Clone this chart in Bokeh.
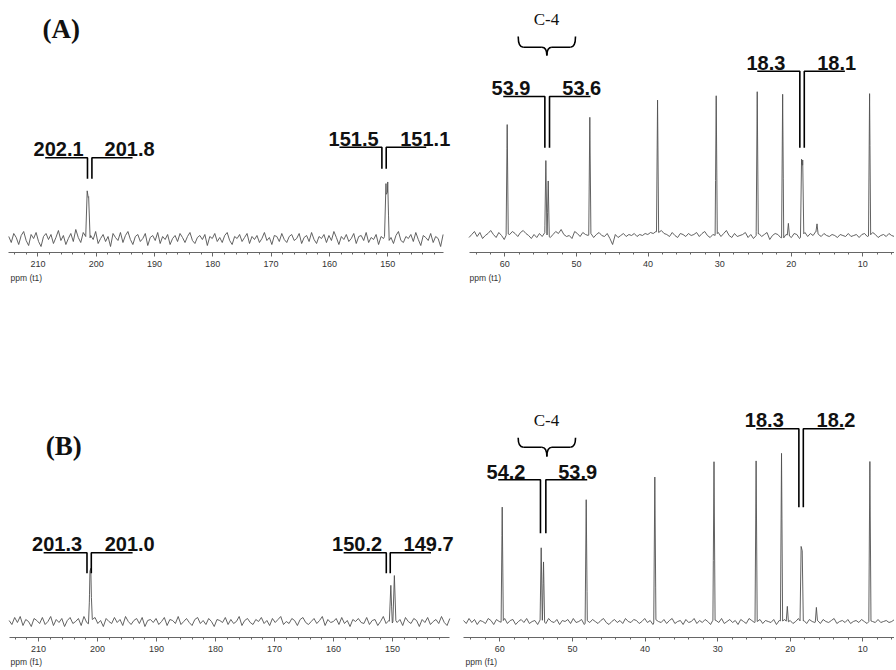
import numpy as np
from bokeh.plotting import figure
from bokeh.layouts import column, row
from bokeh.models import Range1d, SingleIntervalTicker, Title
from bokeh.core.properties import value
from bokeh.embed import file_html
from bokeh.resources import INLINE

# ---------------- data ----------------
# peaks: chemical shift (ppm) and height above baseline
a_left_ppm = [201.55, 201.3, 150.3, 150.0]
a_left_h = [51, 47, 50, 57]
a_right_ppm = [59.67, 54.27, 53.94, 48.13, 38.67, 30.48, 24.75, 21.2, 20.4, 18.56, 18.4, 16.4, 9.06]
a_right_h = [109, 73, 55, 117, 132, 139, 143, 144, 12, 77, 75, 9, 142]
b_left_ppm = [201.3, 201.15, 150.3, 149.7]
b_left_h = [37, 39, 38, 43]
b_right_ppm = [59.67, 54.3, 53.98, 48.1, 38.65, 30.5, 24.7, 21.2, 20.4, 18.5, 18.35, 16.4, 9.03]
b_right_h = [115, 72, 59, 122, 144, 158, 161, 168, 16, 76, 71, 14, 159]

# baseline noise
noise_a_left = [2,-4,5,1,-6,3,7,-2,-7,4,0,6,-3,-8,2,5,-1,4,-5,1,8,-2,3,-6,0,5,-3,9,1,-4,6,2,-7,3,-1,7,-5,0,4,-3,
                2,-8,5,1,-2,6,-4,3,7,-1,-6,2,4,-3,0,5,-7,1,3,-2,6,-5,2,-1,4,-6,0,3,-3,5,1,-4,2,6,-2,-5,1,3,-1,4,
                -7,2,0,5,-3,1,-4,3,6,-2,-6,2,0,4,-3,1,5,-5,2,-1,3,-4,0,6,-2,1,-6,3,2,-3,5,-1,-4,2,4,-2,0,5,-5,1,
                3,-3,6,-1,-5,2,0,4,-4,3,-2,7,1,-6,2,-1,4,-3,0,5,-5,2,3,-2,6,-4,1,-1,4,-6,2,0,5,-3,1,-5,3,7,-2,-4,
                2,0,4,-3,6,-1,-7,3,1,-2,5,-4,2,0,-8,4]
noise_b_left = [1,-3,4,-1,5,-4,2,0,-5,3,1,-2,4,-3,0,5,-4,2,-1,3,-5,1,4,-2,0,3,-4,5,-1,-3,2,4,-2,1,-5,3,0,-2,4,-1,
                2,-4,5,0,-3,1,3,-2,4,-5,1,2,-1,3,-3,0,4,-4,2,1,-2,5,-3,0,3,-1,-4,2,4,-2,1,-3,3,0,-5,2,1,-1,4,-3,
                2,-2,0,5,-4,1,3,-1,-3,2,0,4,-2,1,-4,3,-1,2,5,-3,0,-2,3,1,-4,2,4,-1,-3,0,3,-2,1,5,-4,2,-1,0,3,-3,
                4,-2,1,-5,2,0,3,-1,-2,4,-3,1,2,-4,0,5,-2,1,-3,3,-1,2,-4,4,0,-2,3,1,-5,2,-1,4,-3,0,2,-2,5,-1,-4,3]
noise_a_right = [-2,1,4,-1,3,-3,0,2,5,1,-2,3,0,-4,2,1,4,2,-1,3,5,2,0,-3,1,-2,2,-1,3,0,-2,1,4,2,6,1,-1,0,-3,4,
                 2,-1,3,1,0,2,-2,1,3,0,-1,2,-3,-9,1,-2,0,2,-1,1,0,2,-1,1,0,2,1,3,2,4,3,5,2,1,-1,3,0,-2,2,1,
                 -1,2,0,1,3,-1,2,4,0,-2,1,0,3,-1,2,5,0,-2,2,-1,0,1,3,-2,1,-3,0,2,-1,1,3,-4,0,2,1,-2,-3,1,0,-2,
                 2,1,-3,0,3,-1,2,0,4,1,-1,2,0,-1,1,0,-2,1,0,-1,2,-1,0,1,-2,1,2,-1,0,3,1,-2,0,1,-1,2,0,-1]
noise_b_right = [1,-2,3,-1,2,-3,1,0,-2,3,1,-3,2,0,-1,3,-2,1,2,-3,0,2,-1,3,-2,0,1,-3,2,1,-2,3,0,-1,2,-3,1,0,2,-2,
                 3,-1,0,2,-3,1,-1,2,0,-2,1,3,-1,-3,0,2,-1,1,-2,3,0,-1,2,1,-2,0,3,-1,1,-3,2,0,-1,2,-2,1,3,-2,0,1,
                 -3,2,-1,0,3,-2,1,-1,2,0,-3,2,1,-1,3,-2,0,2,-1,1,-3,2,0,-2,3,1,-1,0,2,-2,1,0,-1,2,-3,1,0,2,-1,1,
                 -2,0,3,-1,1,-2,2,0,-1,1,-2,2,0,-1,1,3,-2,0,1,-1,2,-2,0,1,-1,2,0,-2,1,0,-1,2,-1,0,1,-1,0,2]

axis_labels = ["ppm (t1)", "ppm (t1)", "ppm (f1)", "ppm (f1)"]
panel_tags = ["(A)", "(B)"]

LINE = "#505050"
SANS = "Liberation Sans"
SERIF = "Liberation Serif"


def spectrum(lo, hi, noise, ppm, hts, w):
    nx = np.linspace(hi, lo, len(noise))
    ny = np.array(noise, dtype=float)
    px = np.array(ppm, dtype=float)
    ph = np.array(hts, dtype=float)
    vx = np.sort(np.concatenate([nx, px, px - w, px + w]))[::-1]
    base = np.interp(vx, nx[::-1], ny[::-1])
    tri = np.zeros_like(vx)
    for x0, hh in zip(px, ph):
        tri += hh * np.clip(1 - np.abs(vx - x0) / w, 0, None)
    return vx, base + tri


def build(width, height, xr, yr, bounds, bb, noise, ppm, hts, w, label, off, standoff):
    p = figure(width=width, height=height, x_range=Range1d(*xr), y_range=Range1d(*yr),
               output_backend="svg", toolbar_location=None, y_axis_location=None,
               min_border=0, min_border_left=0, min_border_right=0, min_border_top=0,
               min_border_bottom=bb)
    p.grid.visible = False
    p.outline_line_color = None
    ax = p.xaxis[0]
    ax.bounds = bounds
    ax.ticker = SingleIntervalTicker(interval=10, num_minor_ticks=5)
    ax.axis_line_color = "#666666"
    ax.major_tick_line_color = "#666666"
    ax.minor_tick_line_color = "#666666"
    ax.major_tick_out = 4
    ax.major_tick_in = 0
    ax.minor_tick_out = 2
    ax.minor_tick_in = 0
    ax.major_label_text_font = SANS
    ax.major_label_text_font_size = "9px"
    ax.major_label_text_color = "#333333"
    ax.major_label_standoff = 4
    p.add_layout(Title(text=label, align="left", offset=off, standoff=standoff,
                       text_font=SANS, text_font_size="8.5px", text_font_style="normal",
                       text_color="#333333"), "below")
    x, y = spectrum(bounds[0], bounds[1], noise, ppm, hts, w)
    p.line(x, y, line_color=LINE, line_width=0.9)
    return p


def bracket(p, xl, xr, arm_l, arm_r, yh, yb, tl, tr, xtl, xtr, ty):
    p.multi_line([[arm_l, xl, xl], [xr, xr, arm_r]], [[yh, yh, yb], [yb, yh, yh]],
                 line_color="black", line_width=1.6)
    ty = ty + 6  # text baseline correction (px)
    p.text([xtl, xtr], [ty, ty], text=[tl, tr], text_font=value(SANS), text_font_style="bold",
           text_font_size="20px", text_color="#111111", text_baseline="alphabetic", text_align="left")


def brace(p, x1, x2, xc, ytop, yh, ytip, r):
    p.quadratic(x0=[x1, x2], y0=[ytop, ytop], x1=[x1 - r, x2 + r], y1=[yh, yh],
                cx=[x1, x2], cy=[yh, yh], line_color="black", line_width=1.6)
    p.segment(x0=[x1 - r, x2 + r], y0=[yh, yh], x1=[xc + r, xc - r], y1=[yh, yh],
              line_color="black", line_width=1.6)
    p.quadratic(x0=[xc + r, xc - r], y0=[yh, yh], x1=[xc, xc], y1=[ytip, ytip],
                cx=[xc, xc], cy=[yh, yh], line_color="black", line_width=1.6)


def c4(p, xc, yt):
    p.text([xc], [yt + 6], text=["C-4"], text_font=value(SERIF), text_font_size="17px",
           text_color="#111111", text_align="center", text_baseline="alphabetic")


def tag(p, x, yt, t):
    p.text([x], [yt + 8], text=[t], text_font=value(SERIF), text_font_style="bold",
           text_font_size="27px", text_color="#111111", text_baseline="alphabetic")


# ---------------- panels ----------------
fa_l = build(458, 300, (216.42, 137.86), (-14, 238), (140.5, 215.0), 48,
             noise_a_left, a_left_ppm, a_left_h, 0.25, axis_labels[0], 10, 2)
fa_r = build(436, 300, (66.47, 5.58), (-17, 235), (5.6, 65.0), 48,
             noise_a_right, a_right_ppm, a_right_h, 0.15, axis_labels[1], 11, 2)
fb_l = build(458, 368, (216.46, 138.83), (-16, 321), (140.3, 215.0), 31,
             noise_b_left, b_left_ppm, b_left_h, 0.25, axis_labels[2], 10, 0)
fb_r = build(436, 368, (65.69, 5.64), (-16, 321), (5.64, 65.0), 31,
             noise_b_right, b_right_ppm, b_right_h, 0.15, axis_labels[3], 7, 0)

# annotations (A)
tag(fa_l, 209.2, 202, panel_tags[0])
bracket(fa_l, 201.5, 200.74, 208.75, 193.77, 80.7, 59.7, "202.1", "201.8", 210.75, 198.58, 83.7)
bracket(fa_l, 151.0, 150.26, 158.27, 143.4, 91.3, 69.7, "151.5", "151.1", 160.15, 147.86, 94.0)
bracket(fa_r, 54.41, 53.76, 60.22, 48.03, 139.0, 87.7, "53.9", "53.6", 61.86, 51.98, 141.7)
bracket(fa_r, 18.8, 18.18, 24.75, 12.51, 164.3, 87.7, "18.3", "18.1", 26.26, 16.37, 166.7)
c4(fa_r, 54.18, 210)
brace(fa_r, 58.13, 50.13, 54.13, 199, 188.3, 180, 0.7)

# annotations (B)
tag(fb_l, 208.78, 168, panel_tags[1])
bracket(fb_l, 201.8, 201.07, 209.15, 194.07, 68.7, 48.3, "201.3", "201.0", 211.1, 198.8, 71.7)
bracket(fb_l, 151.07, 150.4, 158.3, 143.5, 68.7, 48.3, "150.2", "149.7", 160.27, 148.14, 71.7)
bracket(fb_r, 54.4, 53.66, 60.22, 47.96, 141.7, 88.3, "54.2", "53.9", 61.83, 51.96, 143.3)
bracket(fb_r, 18.81, 18.2, 24.68, 12.52, 192.7, 114.3, "18.3", "18.2", 26.25, 16.38, 196.0)
c4(fb_r, 53.57, 195)
brace(fb_r, 57.47, 49.57, 53.52, 183.7, 174.3, 165, 0.7)

layout = column(row(fa_l, fa_r), row(fb_l, fb_r))
open("out.html", "w").write(file_html(layout, INLINE))
